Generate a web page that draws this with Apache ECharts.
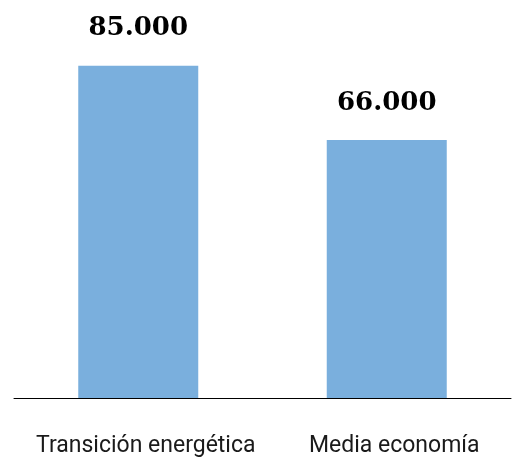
<!DOCTYPE html>
<html><head><meta charset="utf-8">
<script src="https://cdn.jsdelivr.net/npm/echarts@6/dist/echarts.min.js"></script>
<style>html,body{margin:0;padding:0;background:#fff}#c{width:512px;height:458px}</style>
</head><body><div id="c"></div>
<script>
const categories = ['Transición energética', 'Media economía'];
const values = [85000, 66000];

const chart = echarts.init(document.getElementById('c'));
chart.setOption({
  animation: false,
  grid: { left: 14, right: 1, top: 7, bottom: 59 },
  xAxis: {
    type: 'category',
    data: categories,
    axisLine: { lineStyle: { color: '#000', width: 1 } },
    axisTick: { show: false },
    axisLabel: {
      interval: 0, hideOverlap: false,
      margin: 37, color: '#1a1a1a', fontFamily: 'Roboto', fontSize: 23,
      padding: [0, 0, 0, 15]
    }
  },
  yAxis: { type: 'value', min: 0, max: 100000, show: false, splitLine: { show: false } },
  series: [{
    type: 'bar',
    data: values,
    barWidth: 120,
    itemStyle: { color: '#7aafdd' },
    label: {
      show: true, position: 'top', distance: 24,
      fontFamily: 'DejaVu Serif', fontWeight: 'bold', fontSize: 26, color: '#000',
      formatter: p => p.value.toLocaleString('de-DE', { minimumFractionDigits: 0 }).replace(/,/g, '.')
    }
  }]
});
</script></body></html>
